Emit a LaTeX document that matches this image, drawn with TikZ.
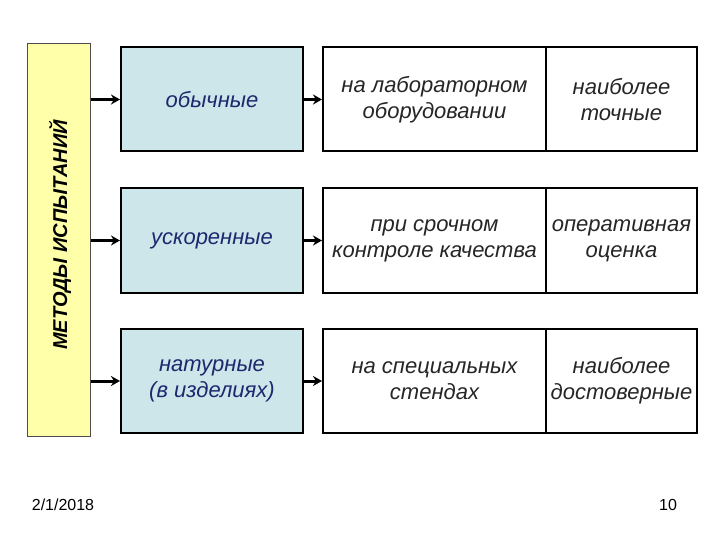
\documentclass[tikz,border=0pt]{standalone}
\usepackage{fontspec}
\setmainfont{Liberation Sans}
\usetikzlibrary{arrows.meta}
\definecolor{yel}{RGB}{255,255,170}
\definecolor{lb}{RGB}{204,230,234}
\definecolor{dblue}{RGB}{30,40,110}
\begin{document}
\begin{tikzpicture}[x=1pt,y=-1pt,
  bx/.style={draw=black,line width=2pt,minimum height=104pt,inner sep=1pt,align=center,font=\itshape\fontsize{22}{26}\selectfont},
  blue/.style={bx,fill=lb,text=dblue,minimum width=182pt},
  wht/.style={bx,fill=white,text=black!85},
  arr/.style={line width=3pt,-{Stealth[length=9pt,width=10pt]}}]
\useasboundingbox (0,0) rectangle (720,540);
\node[draw=black!70,fill=yel,line width=1pt,minimum width=63pt,minimum height=392pt,inner sep=0] (m) at (58.5,240) {};
\node[rotate=90,font=\bfseries\itshape\fontsize{20}{24}\selectfont] (mt) at (60,235) {МЕТОДЫ ИСПЫТАНИЙ};
\foreach \i/\y/\a/\b/\c in {1/99.5/обычные/на лабораторном\\оборудовании/наиболее\\точные,
  2/240.5/ускоренные/при срочном\\контроле качества/оперативная\\оценка,
  3/381/натурные\\(в изделиях)/на специальных\\стендах/наиболее\\достоверные}{
  \node[blue] (b\i) at (212,\y) {\a};
  \node[wht,minimum width=223pt] (w\i) at (434.5,\y) {\b};
  \node[wht,minimum width=151pt] (v\i) at (621.5,\y) {\c};
  \draw[arr] (m.east|-b\i) -- (b\i.west);
  \draw[arr] (b\i.east) -- (w\i.west);
}
\node[font=\fontsize{16}{20}\selectfont,anchor=base] (d) at (63,510) {2/1/2018};
\node[font=\fontsize{16}{20}\selectfont,anchor=base] (p) at (668,510) {10};
\end{tikzpicture}
\end{document}
